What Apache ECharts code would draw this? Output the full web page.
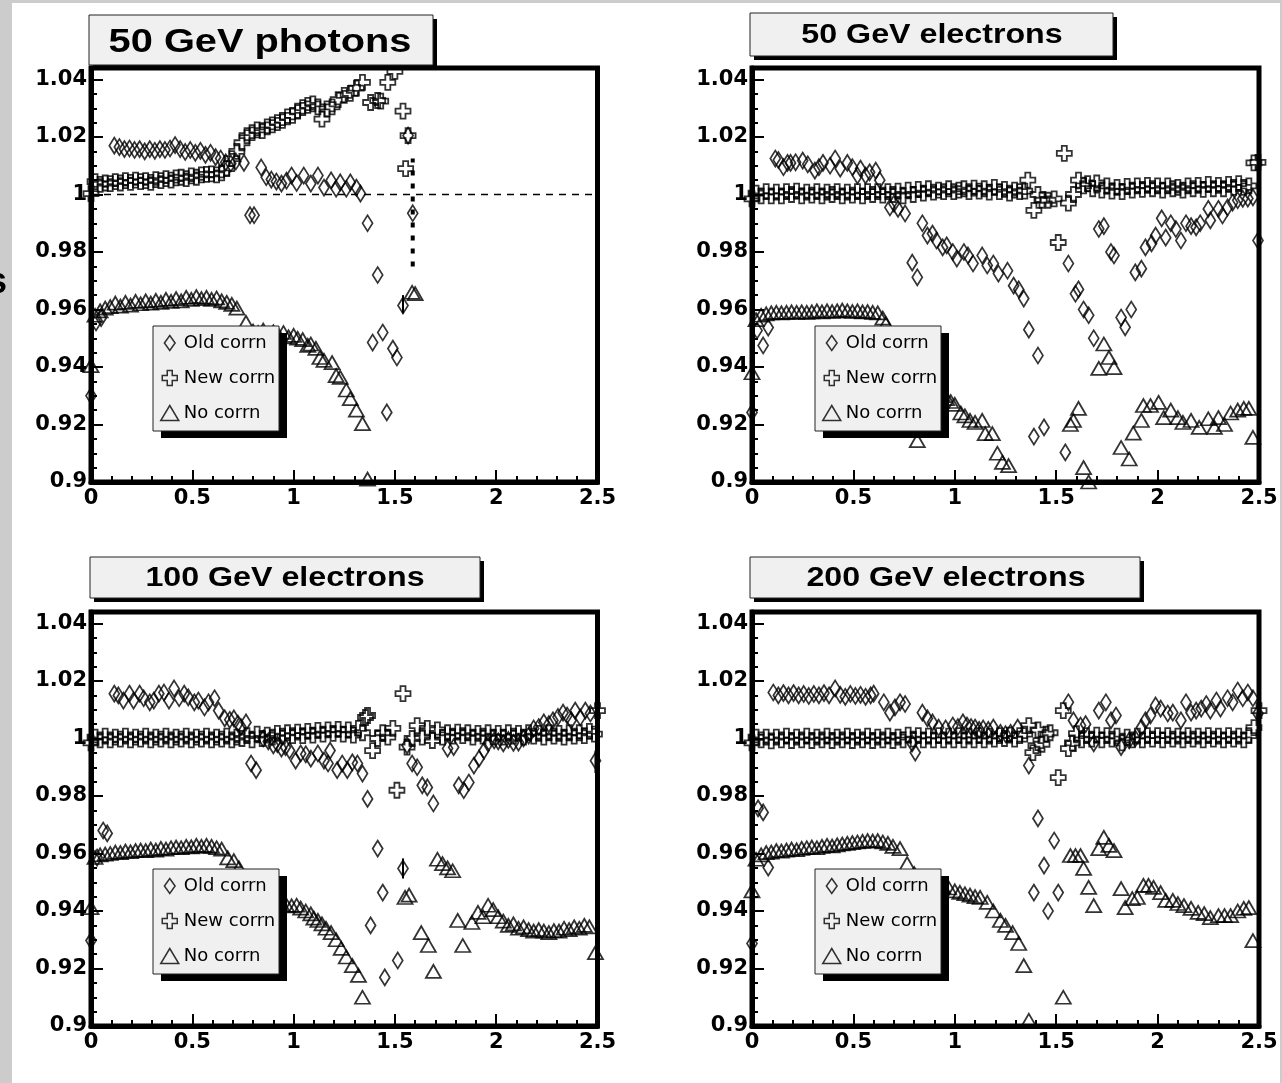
<!DOCTYPE html>
<html>
<head>
<meta charset="utf-8">
<script src="https://cdn.jsdelivr.net/npm/echarts@6/dist/echarts.min.js"></script>
<style>
html,body{margin:0;padding:0;background:#fff;}
#chart{width:1282px;height:1083px;}
</style>
</head>
<body>
<div id="chart"></div>
<script>
// Energy scale vs |eta| for three correction schemes, four beam samples.
const TITLES = ['50 GeV photons', '50 GeV electrons', '100 GeV electrons', '200 GeV electrons'];
const LEGEND_LABELS = ['Old corrn', 'New corrn', 'No corrn'];
const X_MIN = 0, X_MAX = 2.5, X_STEP = 0.5;
const Y_MIN = 0.9, Y_MAX = 1.044, Y_STEP = 0.02, Y_MINOR = 0.005;

// ---- 50 GeV photons ----
const TL_OLD = [[0,0.930],[0.025,0.9555],[0.05,0.957],[0.115,1.017],[0.14,1.0165],[0.165,1.0158],[0.19,1.016],[0.215,1.0155],[0.24,1.0158],[0.265,1.015],[0.29,1.0158],[0.315,1.0152],[0.34,1.0158],[0.365,1.0155],[0.39,1.016],[0.415,1.0172],[0.44,1.0158],[0.465,1.0148],[0.49,1.0155],[0.515,1.0145],[0.54,1.0152],[0.565,1.0138],[0.59,1.0145],[0.615,1.013],[0.64,1.0125],[0.665,1.0112],[0.69,1.0108],[0.715,1.0115],[0.755,1.011],[0.785,0.9928],[0.805,0.9928],[0.84,1.0094],[0.865,1.006],[0.89,1.0052],[0.915,1.0045],[0.94,1.0038],[0.965,1.0048],[0.99,1.0066],[1.015,1.004],[1.05,1.0066],[1.085,1.0038],[1.12,1.0066],[1.15,1.0024],[1.185,1.0049],[1.21,1.002],[1.23,1.0042],[1.26,1.002],[1.28,1.0042],[1.31,1.0024],[1.33,1.0003],[1.365,0.990],[1.39,0.9485],[1.415,0.972],[1.44,0.952],[1.46,0.9242],[1.49,0.9464],[1.51,0.9433],[1.54,0.9614],[1.565,1.0205],[1.588,0.9935]];
const TL_NEW = [[0,1.0003],[0.02,1.0045],[0.045,1.0035],[0.07,1.004],[0.095,1.0038],[0.12,1.0045],[0.145,1.004],[0.17,1.0048],[0.195,1.0042],[0.22,1.005],[0.245,1.0045],[0.27,1.0048],[0.295,1.0042],[0.32,1.0052],[0.345,1.0048],[0.37,1.0055],[0.395,1.005],[0.42,1.0058],[0.445,1.006],[0.47,1.0055],[0.495,1.0065],[0.52,1.006],[0.545,1.0068],[0.57,1.007],[0.595,1.0072],[0.62,1.0068],[0.645,1.0075],[0.67,1.009],[0.695,1.0125],[0.72,1.015],[0.745,1.018],[0.77,1.0205],[0.795,1.0215],[0.82,1.0225],[0.845,1.0222],[0.87,1.0235],[0.895,1.0242],[0.92,1.025],[0.945,1.0258],[0.97,1.027],[0.995,1.0275],[1.02,1.029],[1.045,1.0302],[1.07,1.031],[1.095,1.0315],[1.12,1.0305],[1.14,1.0262],[1.165,1.0298],[1.19,1.0305],[1.22,1.033],[1.25,1.0345],[1.28,1.0352],[1.31,1.037],[1.34,1.039],[1.38,1.032],[1.415,1.0327],[1.43,1.0325],[1.465,1.039],[1.50,1.0428],[1.54,1.029],[1.553,1.009],[1.565,1.0205]];
const TL_NONE = [[0,0.9405],[0.02,0.958],[0.045,0.9595],[0.07,0.9605],[0.095,0.961],[0.12,0.9622],[0.145,0.9612],[0.17,0.9625],[0.195,0.9615],[0.22,0.9628],[0.245,0.962],[0.27,0.963],[0.295,0.9622],[0.32,0.9632],[0.345,0.9625],[0.37,0.9635],[0.395,0.9628],[0.42,0.9638],[0.445,0.963],[0.47,0.9642],[0.495,0.9635],[0.52,0.9645],[0.545,0.9638],[0.57,0.9642],[0.595,0.9635],[0.62,0.964],[0.645,0.963],[0.67,0.9625],[0.695,0.9618],[0.72,0.9605],[0.765,0.9555],[0.80,0.9525],[0.825,0.952],[0.85,0.9528],[0.875,0.9515],[0.90,0.9522],[0.925,0.9512],[0.95,0.952],[0.975,0.9505],[1.00,0.951],[1.02,0.950],[1.045,0.9495],[1.07,0.9475],[1.085,0.948],[1.11,0.9465],[1.13,0.9433],[1.15,0.9423],[1.19,0.9415],[1.21,0.937],[1.23,0.9364],[1.26,0.932],[1.28,0.929],[1.31,0.925],[1.34,0.9203],[1.365,0.901],[1.585,0.966],[1.60,0.9655]];
const TL_WIDE_ERR = [[1.588, 0.975, 1.0125]];
const TL_ERR = [[1.54, 0.9586, 0.965]];
const TL_REF = [[0, 1], [2.5, 1]];

// ---- 50 GeV electrons ----
const TR_OLD = [[0,0.9242],[0.025,0.9527],[0.055,0.9475],[0.08,0.9537],[0.115,1.0125],[0.13,1.012],[0.155,1.0095],[0.175,1.011],[0.19,1.011],[0.215,1.0112],[0.25,1.0118],[0.275,1.0105],[0.31,1.0083],[0.33,1.0095],[0.35,1.011],[0.385,1.010],[0.41,1.0125],[0.435,1.009],[0.47,1.011],[0.495,1.0095],[0.52,1.0066],[0.535,1.009],[0.56,1.0066],[0.58,1.0077],[0.61,1.0083],[0.63,1.005],[0.68,0.9955],[0.70,0.9968],[0.72,0.995],[0.755,0.9934],[0.79,0.9763],[0.815,0.9712],[0.84,0.990],[0.865,0.9857],[0.89,0.9864],[0.91,0.984],[0.94,0.9816],[0.96,0.9823],[0.99,0.980],[1.01,0.9777],[1.045,0.980],[1.065,0.9788],[1.09,0.976],[1.135,0.9788],[1.16,0.9753],[1.19,0.976],[1.215,0.9725],[1.26,0.9735],[1.29,0.9683],[1.315,0.967],[1.34,0.9638],[1.365,0.953],[1.39,0.9158],[1.41,0.944],[1.44,0.919],[1.545,0.9103],[1.56,0.976],[1.595,0.9655],[1.61,0.967],[1.635,0.960],[1.66,0.958],[1.685,0.950],[1.71,0.988],[1.735,0.989],[1.77,0.980],[1.785,0.9788],[1.82,0.9572],[1.84,0.9538],[1.87,0.960],[1.89,0.9729],[1.92,0.9742],[1.94,0.9816],[1.97,0.983],[1.99,0.9857],[2.02,0.9917],[2.04,0.985],[2.065,0.990],[2.09,0.988],[2.115,0.984],[2.14,0.990],[2.165,0.989],[2.19,0.9886],[2.21,0.990],[2.25,0.995],[2.26,0.991],[2.30,0.995],[2.32,0.9927],[2.345,0.9955],[2.37,0.9972],[2.395,0.998],[2.42,0.9985],[2.445,0.9986],[2.47,0.999],[2.495,0.984]];
const TR_NEW = [[0,0.9985],[0.02,1.0005],[0.045,0.9995],[0.07,1.001],[0.095,0.9995],[0.12,1.0008],[0.145,0.9995],[0.17,1.001],[0.195,1.0],[0.22,1.0012],[0.245,0.9995],[0.27,1.0008],[0.295,0.9998],[0.32,1.001],[0.345,0.9995],[0.37,1.0008],[0.395,1.0],[0.42,1.001],[0.445,0.9995],[0.47,1.0008],[0.495,0.9998],[0.52,1.001],[0.545,0.9995],[0.57,1.001],[0.595,1.0],[0.62,1.001],[0.645,0.9998],[0.67,1.001],[0.695,1.0],[0.72,1.0012],[0.745,0.9995],[0.77,1.0015],[0.795,1.0],[0.82,1.0018],[0.845,1.0005],[0.87,1.002],[0.895,1.0008],[0.92,1.0015],[0.945,1.001],[0.97,1.002],[0.995,1.001],[1.02,1.0015],[1.045,1.002],[1.07,1.001],[1.095,1.0022],[1.12,1.0012],[1.145,1.002],[1.17,1.0008],[1.195,1.0025],[1.22,1.001],[1.245,1.0018],[1.27,1.0005],[1.295,1.0015],[1.32,1.001],[1.345,1.0012],[1.36,1.005],[1.39,0.9945],[1.41,1.0],[1.43,0.998],[1.46,0.998],[1.49,0.9985],[1.51,0.9833],[1.54,1.0143],[1.56,0.997],[1.585,1.0],[1.61,1.005],[1.635,1.003],[1.655,1.0038],[1.68,1.002],[1.70,1.004],[1.725,1.0015],[1.75,1.003],[1.775,1.0012],[1.80,1.0025],[1.825,1.001],[1.85,1.0028],[1.875,1.0015],[1.90,1.003],[1.925,1.0018],[1.95,1.0032],[1.975,1.002],[2.0,1.003],[2.025,1.0015],[2.05,1.003],[2.075,1.002],[2.10,1.0025],[2.125,1.0015],[2.15,1.003],[2.175,1.002],[2.20,1.0032],[2.225,1.0018],[2.25,1.0035],[2.275,1.002],[2.30,1.0032],[2.325,1.002],[2.35,1.0035],[2.375,1.0025],[2.40,1.0038],[2.425,1.0025],[2.45,1.003],[2.475,1.011],[2.495,1.0112]];
const TR_NONE = [[0,0.938],[0.02,0.9565],[0.045,0.958],[0.07,0.9585],[0.095,0.9588],[0.12,0.959],[0.145,0.9588],[0.17,0.959],[0.195,0.9592],[0.22,0.959],[0.245,0.9592],[0.27,0.959],[0.295,0.9592],[0.32,0.9595],[0.345,0.9592],[0.37,0.9595],[0.395,0.9593],[0.42,0.9595],[0.445,0.9598],[0.47,0.9595],[0.495,0.9593],[0.52,0.9595],[0.545,0.9592],[0.57,0.9593],[0.595,0.959],[0.62,0.9588],[0.645,0.957],[0.66,0.955],[0.70,0.950],[0.73,0.946],[0.76,0.942],[0.815,0.9144],[0.85,0.936],[0.88,0.934],[0.91,0.932],[0.94,0.930],[0.96,0.929],[0.98,0.928],[1.0,0.927],[1.03,0.924],[1.05,0.923],[1.075,0.9214],[1.10,0.9207],[1.135,0.9214],[1.15,0.9168],[1.185,0.9168],[1.21,0.910],[1.235,0.9068],[1.265,0.9057],[1.57,0.920],[1.585,0.9214],[1.61,0.9256],[1.635,0.905],[1.66,0.900],[1.71,0.9395],[1.735,0.948],[1.76,0.9433],[1.785,0.9398],[1.82,0.912],[1.86,0.908],[1.88,0.917],[1.92,0.9214],[1.93,0.9266],[1.965,0.9266],[2.005,0.9277],[2.03,0.9224],[2.065,0.925],[2.10,0.9224],[2.125,0.9207],[2.165,0.9214],[2.205,0.919],[2.25,0.922],[2.28,0.919],[2.30,0.9224],[2.33,0.920],[2.36,0.924],[2.395,0.925],[2.425,0.9256],[2.45,0.9256],[2.47,0.9155]];

// ---- 100 GeV electrons ----
const BL_OLD = [[0,0.9297],[0.03,0.9586],[0.06,0.968],[0.08,0.967],[0.115,1.0156],[0.135,1.015],[0.16,1.0132],[0.19,1.0156],[0.21,1.0132],[0.24,1.0156],[0.26,1.014],[0.29,1.0126],[0.31,1.0132],[0.335,1.0156],[0.36,1.016],[0.385,1.0132],[0.41,1.0174],[0.435,1.014],[0.46,1.0156],[0.48,1.0143],[0.51,1.0126],[0.53,1.0132],[0.56,1.0108],[0.58,1.0126],[0.61,1.014],[0.63,1.0097],[0.66,1.007],[0.685,1.0065],[0.705,1.007],[0.725,1.0052],[0.74,1.004],[0.765,1.0056],[0.79,0.9913],[0.815,0.989],[0.85,1.0],[0.875,0.999],[0.90,0.9976],[0.92,0.998],[0.94,0.9965],[0.96,0.997],[0.98,0.9958],[1.01,0.9923],[1.035,0.9948],[1.06,0.9945],[1.085,0.993],[1.12,0.9948],[1.15,0.9923],[1.17,0.9913],[1.18,0.9958],[1.215,0.989],[1.24,0.9913],[1.265,0.989],[1.29,0.9917],[1.315,0.9913],[1.34,0.9878],[1.365,0.979],[1.38,0.935],[1.415,0.9617],[1.44,0.9464],[1.45,0.9169],[1.514,0.9228],[1.54,0.9548],[1.56,0.9976],[1.585,0.9913],[1.61,0.990],[1.635,0.9837],[1.66,0.983],[1.69,0.9774],[1.76,0.9965],[1.79,0.997],[1.815,0.9837],[1.84,0.982],[1.865,0.9847],[1.89,0.9906],[1.915,0.993],[1.94,0.9958],[1.96,0.9983],[1.99,0.9993],[2.01,0.999],[2.035,0.9983],[2.06,0.9995],[2.085,0.9985],[2.11,0.9986],[2.135,1.0],[2.16,1.001],[2.185,1.0035],[2.21,1.004],[2.235,1.0056],[2.26,1.005],[2.28,1.0063],[2.305,1.0075],[2.33,1.009],[2.35,1.008],[2.37,1.0063],[2.39,1.0097],[2.415,1.0073],[2.44,1.0097],[2.465,1.0087],[2.49,0.9923]];
const BL_NEW = [[0,0.9985],[0.02,1.0005],[0.045,0.9995],[0.07,1.0008],[0.095,0.9995],[0.12,1.0005],[0.145,0.9998],[0.17,1.0008],[0.195,0.9995],[0.22,1.0005],[0.245,0.9998],[0.27,1.0008],[0.295,0.9995],[0.32,1.0005],[0.345,0.9998],[0.37,1.0008],[0.395,0.9995],[0.42,1.0005],[0.445,0.9998],[0.47,1.0008],[0.495,0.9995],[0.52,1.0005],[0.545,0.9998],[0.57,1.0008],[0.595,0.9995],[0.62,1.0005],[0.645,0.9998],[0.67,1.0008],[0.695,0.9995],[0.72,1.0005],[0.745,1.0],[0.77,1.001],[0.795,0.9995],[0.82,1.0015],[0.845,1.0],[0.87,1.0012],[0.895,1.0005],[0.92,1.0018],[0.945,1.0008],[0.97,1.002],[0.995,1.001],[1.02,1.0022],[1.045,1.001],[1.07,1.0025],[1.095,1.0012],[1.12,1.0028],[1.145,1.0015],[1.17,1.003],[1.195,1.0018],[1.22,1.0032],[1.245,1.0015],[1.27,1.003],[1.295,1.0012],[1.32,1.0035],[1.34,1.002],[1.355,1.0073],[1.365,1.008],[1.39,0.9958],[1.415,1.0],[1.44,1.002],[1.465,1.0005],[1.49,1.0035],[1.51,0.982],[1.54,1.0156],[1.56,0.997],[1.585,1.0],[1.61,1.0045],[1.635,1.0005],[1.66,1.0035],[1.685,0.9993],[1.71,1.003],[1.735,1.0005],[1.76,1.002],[1.785,1.0008],[1.81,1.0022],[1.835,1.001],[1.86,1.002],[1.885,1.0005],[1.91,1.0018],[1.935,1.0008],[1.96,1.002],[1.985,1.0005],[2.01,1.0018],[2.035,1.0005],[2.06,1.002],[2.085,1.0008],[2.11,1.0018],[2.135,1.0005],[2.16,1.002],[2.185,1.0008],[2.21,1.0018],[2.235,1.0005],[2.26,1.002],[2.285,1.0008],[2.31,1.0018],[2.335,1.0005],[2.36,1.002],[2.385,1.0008],[2.41,1.002],[2.435,1.001],[2.46,1.0025],[2.485,1.0015],[2.5,1.0097]];
const BL_NONE = [[0,0.9412],[0.02,0.9586],[0.045,0.9595],[0.07,0.9598],[0.095,0.960],[0.12,0.9605],[0.145,0.9603],[0.17,0.9608],[0.195,0.9606],[0.22,0.961],[0.245,0.9612],[0.27,0.961],[0.295,0.9615],[0.32,0.9612],[0.345,0.9618],[0.37,0.9615],[0.395,0.962],[0.42,0.9622],[0.445,0.962],[0.47,0.9625],[0.495,0.9623],[0.52,0.9628],[0.545,0.9625],[0.57,0.9628],[0.595,0.9625],[0.62,0.962],[0.645,0.9615],[0.675,0.9585],[0.705,0.9575],[0.73,0.955],[0.76,0.952],[0.79,0.949],[0.82,0.947],[0.85,0.945],[0.88,0.9438],[0.91,0.943],[0.94,0.9425],[0.965,0.942],[0.99,0.9418],[1.015,0.942],[1.035,0.941],[1.06,0.940],[1.085,0.939],[1.10,0.9375],[1.12,0.9367],[1.14,0.9355],[1.16,0.934],[1.185,0.9325],[1.21,0.930],[1.235,0.927],[1.26,0.924],[1.29,0.921],[1.32,0.9176],[1.34,0.910],[1.55,0.9447],[1.57,0.9455],[1.63,0.9325],[1.665,0.928],[1.69,0.919],[1.71,0.958],[1.735,0.9565],[1.76,0.955],[1.785,0.954],[1.81,0.9367],[1.835,0.928],[1.88,0.936],[1.91,0.9395],[1.935,0.938],[1.96,0.942],[1.985,0.9405],[2.01,0.938],[2.035,0.9365],[2.06,0.935],[2.085,0.9355],[2.11,0.934],[2.135,0.9345],[2.16,0.9335],[2.185,0.933],[2.21,0.9335],[2.235,0.933],[2.26,0.9325],[2.285,0.9332],[2.31,0.933],[2.335,0.934],[2.36,0.9335],[2.385,0.9345],[2.41,0.934],[2.435,0.935],[2.46,0.9345],[2.49,0.9255]];
const BL_ERR = [[1.54, 0.9513, 0.9583], [2.49, 0.988, 0.9958]];

// ---- 200 GeV electrons ----
const BR_OLD = [[0,0.9287],[0.03,0.9757],[0.055,0.9743],[0.08,0.9551],[0.105,1.016],[0.13,1.015],[0.155,1.0158],[0.18,1.015],[0.205,1.0158],[0.23,1.015],[0.255,1.0155],[0.28,1.0148],[0.305,1.0155],[0.33,1.015],[0.355,1.0158],[0.38,1.015],[0.41,1.0174],[0.435,1.0152],[0.46,1.0145],[0.485,1.0155],[0.51,1.0148],[0.535,1.0152],[0.56,1.0145],[0.585,1.015],[0.60,1.0156],[0.65,1.0126],[0.68,1.009],[0.705,1.0108],[0.73,1.0126],[0.755,1.012],[0.79,0.9983],[0.805,0.9951],[0.84,1.009],[0.865,1.007],[0.89,1.0056],[0.92,1.0038],[0.955,1.0035],[0.99,1.0045],[1.015,1.004],[1.04,1.0056],[1.06,1.0045],[1.08,1.004],[1.10,1.0038],[1.12,1.003],[1.14,1.0035],[1.165,1.003],[1.19,1.0038],[1.225,1.002],[1.25,1.0015],[1.275,1.002],[1.31,1.0038],[1.365,0.9906],[1.39,0.9464],[1.41,0.9722],[1.44,0.9558],[1.46,0.940],[1.49,0.9645],[1.51,0.9464],[1.56,1.0126],[1.585,1.0063],[1.62,1.0045],[1.645,1.005],[1.685,0.9983],[1.71,1.0097],[1.745,1.0126],[1.77,1.0063],[1.795,1.008],[1.82,0.997],[1.86,0.9993],[1.89,1.0],[1.92,1.0038],[1.94,1.0063],[1.965,1.008],[1.99,1.0115],[2.015,1.0104],[2.05,1.0087],[2.075,1.009],[2.115,1.0063],[2.14,1.0126],[2.165,1.009],[2.19,1.0097],[2.215,1.0104],[2.24,1.012],[2.26,1.0097],[2.29,1.0132],[2.31,1.0104],[2.345,1.014],[2.37,1.0126],[2.395,1.0167],[2.42,1.014],[2.445,1.016],[2.47,1.014],[2.495,1.0087]];
const BR_NEW = [[0,0.9985],[0.02,1.0005],[0.045,0.9995],[0.07,1.0005],[0.095,0.9992],[0.12,1.0005],[0.145,0.9995],[0.17,1.0008],[0.195,0.9993],[0.22,1.0005],[0.245,0.9995],[0.27,1.0008],[0.295,0.9993],[0.32,1.0005],[0.345,0.9995],[0.37,1.0008],[0.395,0.9993],[0.42,1.0005],[0.445,0.9995],[0.47,1.0008],[0.495,0.9993],[0.52,1.0005],[0.545,0.9995],[0.57,1.0008],[0.595,0.9993],[0.62,1.0005],[0.645,0.9995],[0.67,1.0008],[0.695,0.9993],[0.72,1.0005],[0.745,0.9995],[0.77,1.0012],[0.795,0.9998],[0.82,1.001],[0.845,0.9995],[0.87,1.0008],[0.895,0.9995],[0.92,1.001],[0.945,0.9995],[0.97,1.0008],[0.995,0.9995],[1.02,1.001],[1.045,0.9995],[1.07,1.0008],[1.095,0.9995],[1.12,1.001],[1.145,0.9995],[1.17,1.0008],[1.195,0.9998],[1.22,1.001],[1.245,1.0],[1.27,1.0012],[1.295,0.9998],[1.32,1.001],[1.345,1.0015],[1.365,1.0045],[1.385,0.9951],[1.40,0.9975],[1.41,1.003],[1.43,0.998],[1.45,1.0015],[1.47,1.002],[1.51,0.9864],[1.535,1.0097],[1.56,0.9965],[1.58,0.9985],[1.60,1.0017],[1.625,0.9995],[1.65,1.001],[1.675,0.9998],[1.70,1.0012],[1.725,0.9995],[1.75,1.001],[1.775,0.9998],[1.80,1.0008],[1.825,0.9985],[1.85,1.0005],[1.875,0.9995],[1.90,1.0008],[1.925,0.9995],[1.95,1.001],[1.975,0.9998],[2.0,1.001],[2.025,0.9995],[2.05,1.001],[2.075,0.9998],[2.10,1.0008],[2.125,0.9995],[2.15,1.001],[2.175,0.9998],[2.20,1.0008],[2.225,0.9995],[2.25,1.001],[2.275,0.9998],[2.30,1.0008],[2.325,0.9995],[2.35,1.001],[2.375,0.9998],[2.40,1.0008],[2.425,0.9995],[2.45,1.001],[2.475,1.0038],[2.5,1.0097]];
const BR_NONE = [[0,0.947],[0.02,0.958],[0.045,0.9595],[0.07,0.9603],[0.095,0.9605],[0.12,0.961],[0.145,0.9608],[0.17,0.9612],[0.195,0.9615],[0.22,0.9613],[0.245,0.9618],[0.27,0.962],[0.295,0.9622],[0.32,0.962],[0.345,0.9625],[0.37,0.9628],[0.395,0.9626],[0.42,0.963],[0.445,0.9633],[0.47,0.9635],[0.495,0.9638],[0.52,0.964],[0.545,0.9642],[0.57,0.9645],[0.595,0.9643],[0.62,0.9645],[0.645,0.964],[0.67,0.9635],[0.695,0.9625],[0.73,0.9617],[0.765,0.9565],[0.80,0.953],[0.83,0.951],[0.855,0.9506],[0.88,0.950],[0.91,0.9495],[0.94,0.9485],[0.97,0.948],[1.0,0.947],[1.025,0.9465],[1.05,0.946],[1.075,0.9455],[1.10,0.945],[1.125,0.9447],[1.16,0.943],[1.19,0.940],[1.225,0.9367],[1.25,0.935],[1.285,0.9325],[1.315,0.9287],[1.34,0.921],[1.365,0.902],[1.535,0.910],[1.57,0.9593],[1.595,0.9593],[1.62,0.9593],[1.635,0.9548],[1.66,0.9482],[1.685,0.9419],[1.71,0.9617],[1.735,0.9656],[1.76,0.9628],[1.785,0.961],[1.82,0.9478],[1.84,0.9412],[1.875,0.9443],[1.90,0.9447],[1.93,0.9489],[1.955,0.9489],[1.98,0.9482],[2.015,0.9464],[2.04,0.9437],[2.075,0.9437],[2.10,0.9426],[2.13,0.9419],[2.165,0.9409],[2.20,0.9395],[2.23,0.9391],[2.26,0.9377],[2.30,0.9384],[2.33,0.9384],[2.36,0.9384],[2.395,0.940],[2.425,0.9409],[2.45,0.9412],[2.47,0.9297]];

const SAMPLES = [
  { old: TL_OLD, neu: TL_NEW, none: TL_NONE, err: TL_ERR },
  { old: TR_OLD, neu: TR_NEW, none: TR_NONE, err: [] },
  { old: BL_OLD, neu: BL_NEW, none: BL_NONE, err: BL_ERR },
  { old: BR_OLD, neu: BR_NEW, none: BR_NONE, err: [] }
];

// pad geometry (plot frame + title box + legend box)
const PADS = [
  { left: 91,  top: 68,  width: 506.5, title: { x: 89,  y: 15,  w: 344, h: 50, cx: 260, cy: 43, size: 34, sx: 1.17 }, leg: { x: 153, y: 326 } },
  { left: 752, top: 68,  width: 507,   title: { x: 750, y: 13,  w: 363, h: 43, cx: 932, cy: 35, size: 28, sx: 1.15 }, leg: { x: 815, y: 326 } },
  { left: 91,  top: 612, width: 506.5, title: { x: 90,  y: 557, w: 390, h: 41, cx: 285, cy: 578, size: 28, sx: 1.15 }, leg: { x: 153, y: 869 } },
  { left: 752, top: 612, width: 507,   title: { x: 750, y: 557, w: 390, h: 41, cx: 946, cy: 578, size: 28, sx: 1.15 }, leg: { x: 815, y: 869 } }
];
const PAD_H = 414;
const LEG_W = 126, LEG_H = 105;

const DIAMOND = 'diamond';
const PLUS = 'path://M5,0H10V5H15V10H10V15H5V10H0V5H5Z';
const DIAMOND_ICON = 'path://M5,0L10,7L5,14L0,7Z';
const TRI_ICON = 'path://M9,0L18,15H0Z';

const fmt = v => String(Math.round(v * 1000) / 1000);
const black = '#000';
const hollow = { color: 'rgba(0,0,0,0)', borderColor: black, borderWidth: 1.8 };
const labelFont = { fontFamily: 'DejaVu Sans', fontWeight: 'bold', fontSize: 21, color: black };

const grid = [], xAxis = [], yAxis = [], series = [], legend = [], graphic = [];

// page border
graphic.push({ type: 'rect', shape: { x: 0, y: 0, width: 12, height: 1083 }, style: { fill: '#cccccc' }, z: 0 });
graphic.push({ type: 'rect', shape: { x: 0, y: 0, width: 1282, height: 3 }, style: { fill: '#cccccc' }, z: 0 });
graphic.push({ type: 'rect', shape: { x: 1280, y: 0, width: 2, height: 1083 }, style: { fill: '#cccccc' }, z: 0 });
graphic.push({ type: 'text', x: -13, y: 283, style: { text: 's', font: 'bold 36px "Liberation Sans"', fill: black, textVerticalAlign: 'middle' }, z: 1 });

PADS.forEach((p, i) => {
  grid.push({ left: p.left, top: p.top, width: p.width, height: PAD_H, show: true, borderColor: black, borderWidth: 5, backgroundColor: '#fff' });
  xAxis.push({
    gridIndex: i, type: 'value', min: X_MIN, max: X_MAX, interval: X_STEP,
    axisLine: { show: true, onZero: false, lineStyle: { color: black, width: 5 } },
    axisTick: { inside: true, length: 12, lineStyle: { color: black, width: 2 } },
    minorTick: { show: true, splitNumber: 5, length: 6, lineStyle: { color: black, width: 2 } },
    splitLine: { show: false }, minorSplitLine: { show: false },
    axisLabel: Object.assign({ margin: 6, formatter: fmt, showMinLabel: true, showMaxLabel: true }, labelFont)
  });
  yAxis.push({
    gridIndex: i, type: 'value', position: 'left', min: Y_MIN, max: Y_MAX, interval: Y_STEP,
    axisLine: { show: true, onZero: false, lineStyle: { color: black, width: 5 } },
    axisTick: { inside: true, length: 12, lineStyle: { color: black, width: 2 } },
    splitLine: { show: false },
    axisLabel: Object.assign({ margin: 4, formatter: fmt, showMinLabel: true, showMaxLabel: false }, labelFont)
  });
  yAxis.push({
    gridIndex: i, type: 'value', position: 'left', min: Y_MIN, max: Y_MAX, interval: Y_MINOR,
    axisLine: { show: false }, axisLabel: { show: false }, splitLine: { show: false },
    axisTick: { inside: true, length: 6, lineStyle: { color: black, width: 2 } }
  });

  const s = SAMPLES[i];
  const base = { type: 'scatter', xAxisIndex: i, yAxisIndex: 2 * i, silent: true, animation: false, itemStyle: hollow, emphasis: { disabled: true }, z: 3 };
  series.push(Object.assign({}, base, { name: LEGEND_LABELS[0], data: s.old, symbol: DIAMOND, symbolSize: [10, 16] }));
  series.push(Object.assign({}, base, { name: LEGEND_LABELS[1], data: s.neu, symbol: PLUS, symbolSize: [15, 15], symbolKeepAspect: false }));
  series.push(Object.assign({}, base, { name: LEGEND_LABELS[2], data: s.none, symbol: 'triangle', symbolSize: [15, 13] }));
  if (s.err.length) {
    series.push({
      type: 'custom', xAxisIndex: i, yAxisIndex: 2 * i, silent: true, animation: false, data: s.err, z: 3,
      renderItem: (params, api) => {
        const a = api.coord([api.value(0), api.value(1)]);
        const b = api.coord([api.value(0), api.value(2)]);
        return { type: 'line', shape: { x1: a[0], y1: a[1], x2: b[0], y2: b[1] }, style: { stroke: black, lineWidth: 2 } };
      }
    });
  }

  // legend box: hard drop shadow, then the light panel; the legend entries sit on top
  graphic.push({ type: 'rect', shape: { x: p.leg.x + 8, y: p.leg.y + 7, width: LEG_W, height: LEG_H }, style: { fill: black }, z: 5 });
  graphic.push({ type: 'rect', shape: { x: p.leg.x, y: p.leg.y, width: LEG_W, height: LEG_H }, style: { fill: '#f0f0f0', stroke: '#222', lineWidth: 1 }, z: 5 });
  legend.push({
    orient: 'vertical', left: p.leg.x, top: p.leg.y, itemWidth: 18, itemHeight: 15, itemGap: 17,
    padding: [8, 2, 9, 7], selectedMode: false, z: 6,
    itemStyle: { color: 'rgba(0,0,0,0)', borderColor: black, borderWidth: 1.5, shadowBlur: 0, shadowColor: 'rgba(0,0,0,0)', shadowOffsetX: 0, shadowOffsetY: 0 },
    textStyle: { fontFamily: 'DejaVu Sans', fontSize: 18, color: black, textShadowBlur: 0 },
    data: [
      { name: LEGEND_LABELS[0], icon: DIAMOND_ICON },
      { name: LEGEND_LABELS[1], icon: PLUS },
      { name: LEGEND_LABELS[2], icon: TRI_ICON }
    ]
  });

  const t = p.title;
  graphic.push({ type: 'rect', shape: { x: t.x + 4, y: t.y + 4, width: t.w, height: t.h }, style: { fill: black }, z: 10 });
  graphic.push({ type: 'rect', shape: { x: t.x, y: t.y, width: t.w, height: t.h }, style: { fill: '#f0f0f0', stroke: '#222', lineWidth: 1 }, z: 11 });
  graphic.push({ type: 'text', x: t.cx, y: t.cy, scaleX: t.sx, style: { text: TITLES[i], font: 'bold ' + t.size + 'px "Liberation Sans"', fill: black, textAlign: 'center', textVerticalAlign: 'middle' }, z: 12 });
});

// reference line at unit response and the wide error band of the crack bin (photon pad)
series.push({ type: 'line', xAxisIndex: 0, yAxisIndex: 0, data: TL_REF, symbol: 'none', silent: true, animation: false, z: 2,
  lineStyle: { color: black, width: 1.5, type: [7, 6] } });
series.push({
  type: 'custom', xAxisIndex: 0, yAxisIndex: 0, silent: true, animation: false, data: TL_WIDE_ERR, z: 3,
  renderItem: (params, api) => {
    const a = api.coord([api.value(0), api.value(1)]);
    const b = api.coord([api.value(0), api.value(2)]);
    return { type: 'line', shape: { x1: a[0], y1: a[1], x2: b[0], y2: b[1] }, style: { stroke: black, lineWidth: 4, lineDash: [5, 8] } };
  }
});

const chart = echarts.init(document.getElementById('chart'), null, { renderer: 'canvas' });
chart.setOption({ animation: false, backgroundColor: '#fff', grid, xAxis, yAxis, series, legend, graphic });
</script>
</body>
</html>
